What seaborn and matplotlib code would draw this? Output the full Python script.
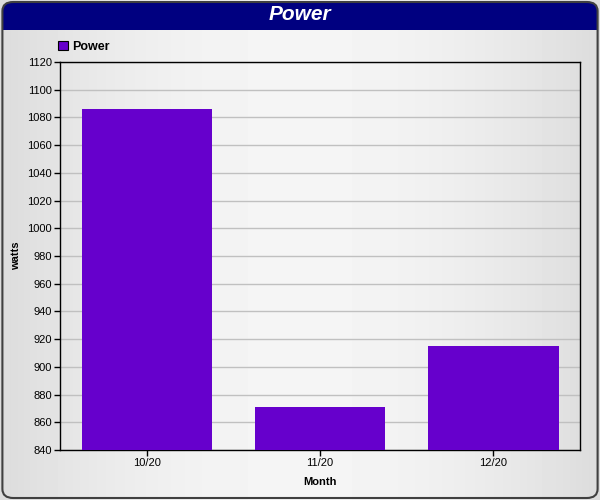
import numpy as np
import pandas as pd
import matplotlib
matplotlib.use("Agg")
import matplotlib.pyplot as plt
from matplotlib.patches import FancyBboxPatch, Rectangle
import seaborn as sns

# Data
months = ["10/20", "11/20", "12/20"]
power = [1086, 871, 915]
y_ticks = list(range(840, 1121, 20))

df = pd.DataFrame({"Month": months, "Power": power})

sns.set_style("white")
plt.rcParams["font.family"] = ["Liberation Sans", "DejaVu Sans"]
plt.rcParams["text.color"] = "black"
plt.rcParams["axes.labelcolor"] = "black"
plt.rcParams["xtick.color"] = "black"
plt.rcParams["ytick.color"] = "black"

fig = plt.figure(figsize=(6, 5), dpi=100)

# background gradient (light in the middle, grey at the sides)
bg = fig.add_axes([0, 0, 1, 1], zorder=-10)
xs = np.linspace(-1, 1, 600)
row = 0.96 - 0.10 * xs ** 2
bg.imshow(np.tile(row, (10, 1)), cmap="gray", vmin=0, vmax=1, aspect="auto",
          extent=[0, 1, 0, 1])
bg.set_xlim(0, 1)
bg.set_ylim(0, 1)
bg.axis("off")

# title bar: rounded on top, square at the bottom
bg.add_patch(FancyBboxPatch((0.004, 0.94), 0.992, 0.056,
                            boxstyle="round,pad=0,rounding_size=0.018",
                            facecolor="#000080", edgecolor="none",
                            transform=fig.transFigure, zorder=2))
bg.add_patch(Rectangle((0.004, 0.94), 0.992, 0.025, facecolor="#000080",
                       edgecolor="none", transform=fig.transFigure, zorder=2))
bg.add_patch(FancyBboxPatch((0.004, 0.004), 0.992, 0.992,
                            boxstyle="round,pad=0,rounding_size=0.018",
                            facecolor="none", edgecolor="#404040", linewidth=1.5,
                            transform=fig.transFigure, zorder=3))
fig.text(0.5, 0.970, "Power", color="white", fontsize=15, fontweight="bold",
         fontstyle="italic", ha="center", va="center")

ax = fig.add_axes([0.1, 0.1, 0.867, 0.776])
ax.patch.set_alpha(0)
sns.barplot(data=df, x="Month", y="Power", color="#6600cc", width=0.75,
            saturation=1, ax=ax, label="Power", zorder=3, linewidth=0,
            edgecolor="none")
ax.set_ylim(840, 1120)
ax.set_yticks(y_ticks)
ax.yaxis.grid(True, color="#c0c0c0", linewidth=1, zorder=0)
ax.set_axisbelow(True)
for s in ax.spines.values():
    s.set_color("black")
    s.set_linewidth(1)
ax.tick_params(axis="both", labelsize=8, length=4, width=1, color="black",
               direction="out", left=True, bottom=True, pad=2)
ax.set_xlabel("Month", fontsize=8, fontweight="bold", labelpad=6)
ax.set_ylabel("watts", fontsize=8, fontweight="bold", labelpad=4)

ax.legend(loc="center left", bbox_to_anchor=(0.097, 0.906), bbox_transform=fig.transFigure,
          frameon=False, prop={"size": 9, "weight": "bold"}, handlelength=0.75,
          handleheight=0.75, handletextpad=0.4, borderaxespad=0, borderpad=0)
for h in ax.get_legend().legend_handles:
    h.set_edgecolor("black")
    h.set_linewidth(0.8)

fig.savefig("out.png", dpi=100)
